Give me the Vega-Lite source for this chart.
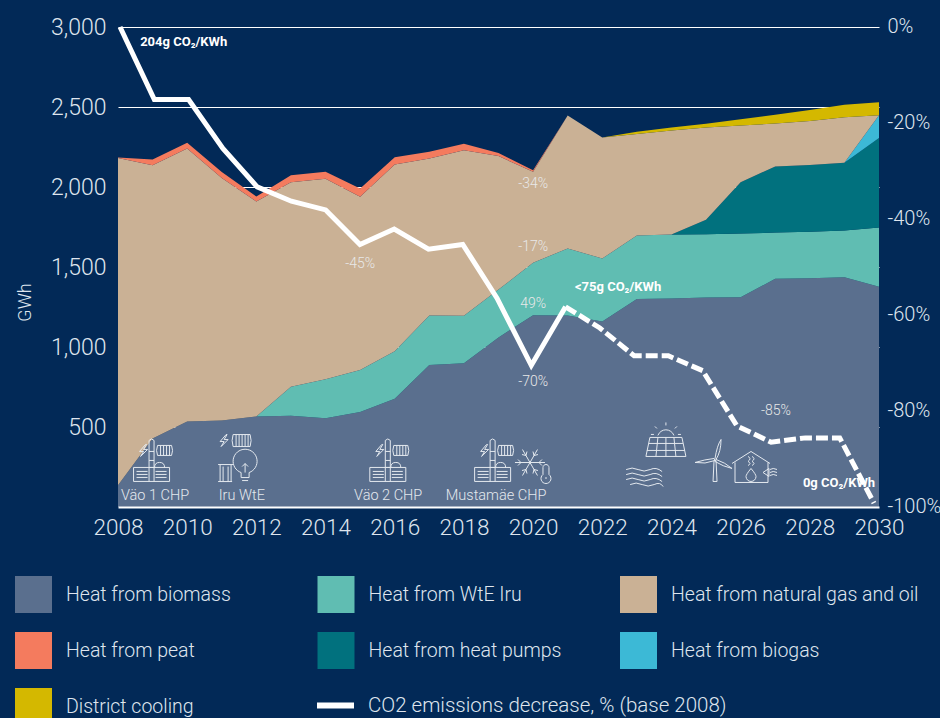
{"$schema":"https://vega.github.io/schema/vega-lite/v6.json","width":761,"height":480,"autosize":{"type":"none"},"padding":{"left":118,"top":27,"right":61,"bottom":211},"background":"#022957","config":{"view":{"stroke":null},"font":"Roboto"},"layer":[{"layer":[{"data":{"values":[
{"year":2008,"series":"Heat from biomass","gwh":136,"order":1},{"year":2008,"series":"Heat from WtE Iru","gwh":0,"order":2},{"year":2008,"series":"Heat from heat pumps","gwh":0,"order":3},{"year":2008,"series":"Heat from biogas","gwh":0,"order":4},{"year":2008,"series":"Heat from natural gas and oil","gwh":2046,"order":5},{"year":2008,"series":"Heat from peat","gwh":2,"order":6},{"year":2008,"series":"District cooling","gwh":0,"order":7},
{"year":2009,"series":"Heat from biomass","gwh":428,"order":1},{"year":2009,"series":"Heat from WtE Iru","gwh":0,"order":2},{"year":2009,"series":"Heat from heat pumps","gwh":0,"order":3},{"year":2009,"series":"Heat from biogas","gwh":0,"order":4},{"year":2009,"series":"Heat from natural gas and oil","gwh":1708,"order":5},{"year":2009,"series":"Heat from peat","gwh":36,"order":6},{"year":2009,"series":"District cooling","gwh":0,"order":7},
{"year":2010,"series":"Heat from biomass","gwh":534,"order":1},{"year":2010,"series":"Heat from WtE Iru","gwh":0,"order":2},{"year":2010,"series":"Heat from heat pumps","gwh":0,"order":3},{"year":2010,"series":"Heat from biogas","gwh":0,"order":4},{"year":2010,"series":"Heat from natural gas and oil","gwh":1707,"order":5},{"year":2010,"series":"Heat from peat","gwh":35,"order":6},{"year":2010,"series":"District cooling","gwh":0,"order":7},
{"year":2011,"series":"Heat from biomass","gwh":540,"order":1},{"year":2011,"series":"Heat from WtE Iru","gwh":0,"order":2},{"year":2011,"series":"Heat from heat pumps","gwh":0,"order":3},{"year":2011,"series":"Heat from biogas","gwh":0,"order":4},{"year":2011,"series":"Heat from natural gas and oil","gwh":1517,"order":5},{"year":2011,"series":"Heat from peat","gwh":36,"order":6},{"year":2011,"series":"District cooling","gwh":0,"order":7},
{"year":2012,"series":"Heat from biomass","gwh":566,"order":1},{"year":2012,"series":"Heat from WtE Iru","gwh":0,"order":2},{"year":2012,"series":"Heat from heat pumps","gwh":0,"order":3},{"year":2012,"series":"Heat from biogas","gwh":0,"order":4},{"year":2012,"series":"Heat from natural gas and oil","gwh":1343,"order":5},{"year":2012,"series":"Heat from peat","gwh":31,"order":6},{"year":2012,"series":"District cooling","gwh":0,"order":7},
{"year":2013,"series":"Heat from biomass","gwh":570,"order":1},{"year":2013,"series":"Heat from WtE Iru","gwh":181,"order":2},{"year":2013,"series":"Heat from heat pumps","gwh":0,"order":3},{"year":2013,"series":"Heat from biogas","gwh":0,"order":4},{"year":2013,"series":"Heat from natural gas and oil","gwh":1279,"order":5},{"year":2013,"series":"Heat from peat","gwh":44,"order":6},{"year":2013,"series":"District cooling","gwh":0,"order":7},
{"year":2014,"series":"Heat from biomass","gwh":555,"order":1},{"year":2014,"series":"Heat from WtE Iru","gwh":244,"order":2},{"year":2014,"series":"Heat from heat pumps","gwh":0,"order":3},{"year":2014,"series":"Heat from biogas","gwh":0,"order":4},{"year":2014,"series":"Heat from natural gas and oil","gwh":1252,"order":5},{"year":2014,"series":"Heat from peat","gwh":44,"order":6},{"year":2014,"series":"District cooling","gwh":0,"order":7},
{"year":2015,"series":"Heat from biomass","gwh":593,"order":1},{"year":2015,"series":"Heat from WtE Iru","gwh":264,"order":2},{"year":2015,"series":"Heat from heat pumps","gwh":0,"order":3},{"year":2015,"series":"Heat from biogas","gwh":0,"order":4},{"year":2015,"series":"Heat from natural gas and oil","gwh":1082,"order":5},{"year":2015,"series":"Heat from peat","gwh":51,"order":6},{"year":2015,"series":"District cooling","gwh":0,"order":7},
{"year":2016,"series":"Heat from biomass","gwh":676,"order":1},{"year":2016,"series":"Heat from WtE Iru","gwh":298,"order":2},{"year":2016,"series":"Heat from heat pumps","gwh":0,"order":3},{"year":2016,"series":"Heat from biogas","gwh":0,"order":4},{"year":2016,"series":"Heat from natural gas and oil","gwh":1167,"order":5},{"year":2016,"series":"Heat from peat","gwh":45,"order":6},{"year":2016,"series":"District cooling","gwh":0,"order":7},
{"year":2017,"series":"Heat from biomass","gwh":888,"order":1},{"year":2017,"series":"Heat from WtE Iru","gwh":309,"order":2},{"year":2017,"series":"Heat from heat pumps","gwh":0,"order":3},{"year":2017,"series":"Heat from biogas","gwh":0,"order":4},{"year":2017,"series":"Heat from natural gas and oil","gwh":981,"order":5},{"year":2017,"series":"Heat from peat","gwh":42,"order":6},{"year":2017,"series":"District cooling","gwh":0,"order":7},
{"year":2018,"series":"Heat from biomass","gwh":899,"order":1},{"year":2018,"series":"Heat from WtE Iru","gwh":296,"order":2},{"year":2018,"series":"Heat from heat pumps","gwh":0,"order":3},{"year":2018,"series":"Heat from biogas","gwh":0,"order":4},{"year":2018,"series":"Heat from natural gas and oil","gwh":1035,"order":5},{"year":2018,"series":"Heat from peat","gwh":40,"order":6},{"year":2018,"series":"District cooling","gwh":0,"order":7},
{"year":2019,"series":"Heat from biomass","gwh":1060,"order":1},{"year":2019,"series":"Heat from WtE Iru","gwh":299,"order":2},{"year":2019,"series":"Heat from heat pumps","gwh":0,"order":3},{"year":2019,"series":"Heat from biogas","gwh":0,"order":4},{"year":2019,"series":"Heat from natural gas and oil","gwh":834,"order":5},{"year":2019,"series":"Heat from peat","gwh":20,"order":6},{"year":2019,"series":"District cooling","gwh":0,"order":7},
{"year":2020,"series":"Heat from biomass","gwh":1199,"order":1},{"year":2020,"series":"Heat from WtE Iru","gwh":327,"order":2},{"year":2020,"series":"Heat from heat pumps","gwh":0,"order":3},{"year":2020,"series":"Heat from biogas","gwh":0,"order":4},{"year":2020,"series":"Heat from natural gas and oil","gwh":569,"order":5},{"year":2020,"series":"Heat from peat","gwh":10,"order":6},{"year":2020,"series":"District cooling","gwh":0,"order":7},
{"year":2021,"series":"Heat from biomass","gwh":1197,"order":1},{"year":2021,"series":"Heat from WtE Iru","gwh":419,"order":2},{"year":2021,"series":"Heat from heat pumps","gwh":0,"order":3},{"year":2021,"series":"Heat from biogas","gwh":0,"order":4},{"year":2021,"series":"Heat from natural gas and oil","gwh":831,"order":5},{"year":2021,"series":"Heat from peat","gwh":0,"order":6},{"year":2021,"series":"District cooling","gwh":0,"order":7},
{"year":2022,"series":"Heat from biomass","gwh":1159,"order":1},{"year":2022,"series":"Heat from WtE Iru","gwh":394,"order":2},{"year":2022,"series":"Heat from heat pumps","gwh":0,"order":3},{"year":2022,"series":"Heat from biogas","gwh":0,"order":4},{"year":2022,"series":"Heat from natural gas and oil","gwh":756,"order":5},{"year":2022,"series":"Heat from peat","gwh":0,"order":6},{"year":2022,"series":"District cooling","gwh":0,"order":7},
{"year":2023,"series":"Heat from biomass","gwh":1300,"order":1},{"year":2023,"series":"Heat from WtE Iru","gwh":397,"order":2},{"year":2023,"series":"Heat from heat pumps","gwh":0,"order":3},{"year":2023,"series":"Heat from biogas","gwh":0,"order":4},{"year":2023,"series":"Heat from natural gas and oil","gwh":635,"order":5},{"year":2023,"series":"Heat from peat","gwh":0,"order":6},{"year":2023,"series":"District cooling","gwh":14,"order":7},
{"year":2024,"series":"Heat from biomass","gwh":1303,"order":1},{"year":2024,"series":"Heat from WtE Iru","gwh":400,"order":2},{"year":2024,"series":"Heat from heat pumps","gwh":0,"order":3},{"year":2024,"series":"Heat from biogas","gwh":0,"order":4},{"year":2024,"series":"Heat from natural gas and oil","gwh":650,"order":5},{"year":2024,"series":"Heat from peat","gwh":0,"order":6},{"year":2024,"series":"District cooling","gwh":19,"order":7},
{"year":2025,"series":"Heat from biomass","gwh":1309,"order":1},{"year":2025,"series":"Heat from WtE Iru","gwh":396,"order":2},{"year":2025,"series":"Heat from heat pumps","gwh":90,"order":3},{"year":2025,"series":"Heat from biogas","gwh":0,"order":4},{"year":2025,"series":"Heat from natural gas and oil","gwh":577,"order":5},{"year":2025,"series":"Heat from peat","gwh":0,"order":6},{"year":2025,"series":"District cooling","gwh":23,"order":7},
{"year":2026,"series":"Heat from biomass","gwh":1311,"order":1},{"year":2026,"series":"Heat from WtE Iru","gwh":398,"order":2},{"year":2026,"series":"Heat from heat pumps","gwh":321,"order":3},{"year":2026,"series":"Heat from biogas","gwh":0,"order":4},{"year":2026,"series":"Heat from natural gas and oil","gwh":354,"order":5},{"year":2026,"series":"Heat from peat","gwh":0,"order":6},{"year":2026,"series":"District cooling","gwh":40,"order":7},
{"year":2027,"series":"Heat from biomass","gwh":1426,"order":1},{"year":2027,"series":"Heat from WtE Iru","gwh":289,"order":2},{"year":2027,"series":"Heat from heat pumps","gwh":413,"order":3},{"year":2027,"series":"Heat from biogas","gwh":0,"order":4},{"year":2027,"series":"Heat from natural gas and oil","gwh":269,"order":5},{"year":2027,"series":"Heat from peat","gwh":0,"order":6},{"year":2027,"series":"District cooling","gwh":54,"order":7},
{"year":2028,"series":"Heat from biomass","gwh":1430,"order":1},{"year":2028,"series":"Heat from WtE Iru","gwh":290,"order":2},{"year":2028,"series":"Heat from heat pumps","gwh":418,"order":3},{"year":2028,"series":"Heat from biogas","gwh":0,"order":4},{"year":2028,"series":"Heat from natural gas and oil","gwh":274,"order":5},{"year":2028,"series":"Heat from peat","gwh":0,"order":6},{"year":2028,"series":"District cooling","gwh":70,"order":7},
{"year":2029,"series":"Heat from biomass","gwh":1436,"order":1},{"year":2029,"series":"Heat from WtE Iru","gwh":292,"order":2},{"year":2029,"series":"Heat from heat pumps","gwh":423,"order":3},{"year":2029,"series":"Heat from biogas","gwh":0,"order":4},{"year":2029,"series":"Heat from natural gas and oil","gwh":285,"order":5},{"year":2029,"series":"Heat from peat","gwh":0,"order":6},{"year":2029,"series":"District cooling","gwh":78,"order":7},
{"year":2030,"series":"Heat from biomass","gwh":1376,"order":1},{"year":2030,"series":"Heat from WtE Iru","gwh":371,"order":2},{"year":2030,"series":"Heat from heat pumps","gwh":560,"order":3},{"year":2030,"series":"Heat from biogas","gwh":142,"order":4},{"year":2030,"series":"Heat from natural gas and oil","gwh":0,"order":5},{"year":2030,"series":"Heat from peat","gwh":0,"order":6},{"year":2030,"series":"District cooling","gwh":81,"order":7}
]},"mark":{"type":"area","line":false},"encoding":{"x":{"field":"year","type":"quantitative","scale":{"domain":[2008,2030],"nice":false,"zero":false},"axis":{"values":[2008,2010,2012,2014,2016,2018,2020,2022,2024,2026,2028,2030],"format":"d","title":null,"grid":false,"ticks":false,"domainColor":"#ffffff","domainWidth":2,"labelColor":"#dfe5ee","labelFont":"Roboto","labelFontWeight":300,"labelFontSize":22.5,"labelPadding":9,"labelFlush":false,"labelOverlap":false,"zindex":1}},"y":{"field":"gwh","type":"quantitative","stack":"zero","scale":{"domain":[0,3000],"nice":false},"axis":{"values":[500,1000,1500,2000,2500,3000],"format":",d","title":"GWh","titleColor":"#dfe5ee","titleFont":"Roboto","titleFontWeight":300,"titleFontSize":18,"titleX":-84,"titleY":275,"grid":true,"gridColor":"#ffffff","gridWidth":1,"gridOpacity":1,"domain":false,"ticks":false,"labelColor":"#dfe5ee","labelFont":"Roboto","labelFontWeight":300,"labelFontSize":23,"labelPadding":12,"zindex":0}},"order":{"field":"order","type":"quantitative"},"fill":{"field":"series","type":"nominal","scale":{"domain":["Heat from biomass","Heat from WtE Iru","Heat from natural gas and oil","Heat from peat","Heat from heat pumps","Heat from biogas","District cooling"],"range":["#5a6f8e","#60bdb2","#cab195","#f47b5e","#01717e","#3cb9d6","#d4b800"]},"legend":{"orient":"none","legendX":-103,"legendY":549,"columns":3,"direction":"horizontal","gridAlign":"all","title":null,"symbolType":"square","symbolSize":1369,"symbolStrokeWidth":0,"symbolOpacity":1,"labelColor":"#dfe5ee","labelFont":"Roboto","labelFontWeight":300,"labelFontSize":19.5,"labelOffset":14,"labelLimit":300,"columnPadding":3.5,"rowPadding":19}}}},
{"data":{"values":[{"year":2008.64,"gwh":2909,"label":"204g CO₂/KWh"},{"year":2021.21,"gwh":1372,"label":"<75g CO₂/KWh"},{"year":2027.8,"gwh":147,"label":"0g CO₂/KWh"}]},"mark":{"type":"text","align":"left","baseline":"middle","font":"Roboto","fontSize":13,"fontWeight":"bold","color":"#ffffff"},"encoding":{"x":{"field":"year","type":"quantitative"},"y":{"field":"gwh","type":"quantitative"},"text":{"field":"label"}}},
{"data":{"values":[{"year":2015,"gwh":1516,"label":"-45%"},{"year":2020,"gwh":2016,"label":"-34%"},{"year":2020,"gwh":1622,"label":"-17%"},{"year":2020,"gwh":1266,"label":"49%"},{"year":2020,"gwh":784,"label":"-70%"},{"year":2027.02,"gwh":603,"label":"-85%"}]},"mark":{"type":"text","align":"center","baseline":"middle","font":"Roboto","fontWeight":300,"fontSize":14,"color":"#e8e8e8"},"encoding":{"x":{"field":"year","type":"quantitative"},"y":{"field":"gwh","type":"quantitative"},"text":{"field":"label"}}},
{"data":{"values":[{"year":2009.07,"gwh":66,"label":"Väo 1 CHP"},{"year":2011.58,"gwh":66,"label":"Iru WtE"},{"year":2015.81,"gwh":66,"label":"Väo 2 CHP"},{"year":2018.93,"gwh":66,"label":"Mustamäe CHP"}]},"mark":{"type":"text","align":"center","baseline":"middle","font":"Roboto","fontWeight":300,"fontSize":14.5,"color":"#e4e9ef"},"encoding":{"x":{"field":"year","type":"quantitative"},"y":{"field":"gwh","type":"quantitative"},"text":{"field":"label"}}},
{"data":{"values":[{"year":2008.97,"gwh":291},{"year":2015.8,"gwh":291},{"year":2018.83,"gwh":291}]},"mark":{"type":"point","filled":false,"size":4,"opacity":1,"stroke":"#e4e9ef","strokeWidth":1,"shape":"M-18,7H18V21H-18Z M-15,11H-4 M-15,14H-4 M-15,17H-4 M4,11H15 M4,14H15 M4,17H15 M-2.5,21V-20L0,-21.5L2.5,-20V21 M-2.5,-9H2.5 M-2.5,0H2.5 M-2.5,7H2.5 M3,7Q3,2 8,2Q13,2 13,7 M6,-15H20Q22,-10 20,-5H6Q4,-10 6,-15Z M9,-15V-5 M12,-15V-5 M15,-15V-5 M18,-15V-5 M-6,-16L-12,-9H-8L-11,-4L-4,-11H-8L-5,-16Z"},"encoding":{"x":{"field":"year","type":"quantitative"},"y":{"field":"gwh","type":"quantitative"}}},
{"data":{"values":[{"year":2011.53,"gwh":309}]},"mark":{"type":"point","filled":false,"size":4,"opacity":1,"stroke":"#e4e9ef","strokeWidth":1,"shape":"M1,15A12,12 0 1 1 9,15V20H1Z M2,23H8 M5,15V6 M2,9L5,6L8,9 M-22,7H-7 M-20,7V24 M-17,9V24 M-12,9V24 M-9,7V24 M-22,24H-8 M-14,-23L-20,-16H-16L-19,-11L-12,-18H-16L-13,-23Z M-7,-23H10Q12,-17 10,-11H-7Q-9,-17 -7,-23Z M-4,-23V-11 M-1,-23V-11 M2,-23V-11 M5,-23V-11 M8,-23V-11"},"encoding":{"x":{"field":"year","type":"quantitative"},"y":{"field":"gwh","type":"quantitative"}}},
{"data":{"values":[{"year":2019.91,"gwh":278}]},"mark":{"type":"point","filled":false,"size":4,"opacity":1,"stroke":"#e4e9ef","strokeWidth":1,"shape":"M-15,0H15 M-7.5,-13L7.5,13 M-7.5,13L7.5,-13 M-12,-3L-9,0L-12,3 M12,-3L9,0L12,3 M-8,-8L-4,-7L-3,-11 M8,-8L4,-7L3,-11 M-8,8L-4,7L-3,11 M8,8L4,7L3,11 M13,5V12A5,5 0 1 0 19,12V5A3,3 0 0 0 13,5Z M15,15.5H17"},"encoding":{"x":{"field":"year","type":"quantitative"},"y":{"field":"gwh","type":"quantitative"}}},
{"data":{"values":[{"year":2023.84,"gwh":391}]},"mark":{"type":"point","filled":false,"size":4,"opacity":1,"stroke":"#e4e9ef","strokeWidth":1,"shape":"M-16,-7H16L20,12H-20Z M-17,-1H17 M-19,6H19 M-8,-7L-10,12 M0,-7V12 M8,-7L10,12 M-8,-9A8.5,8.5 0 0 1 8,-9 M0,-22V-19 M-11,-18L-9,-16 M11,-18L9,-16 M-15,-10H-12 M15,-10H12"},"encoding":{"x":{"field":"year","type":"quantitative"},"y":{"field":"gwh","type":"quantitative"}}},
{"data":{"values":[{"year":2023.21,"gwh":184}]},"mark":{"type":"point","filled":false,"size":4,"opacity":1,"stroke":"#e4e9ef","strokeWidth":1,"shape":"M-18,-8Q-12,-11 -6,-8T6,-8T18,-6 M-18,-3Q-12,-6 -6,-3T6,-3T18,-1 M-18,2Q-12,-1 -6,2T6,2T18,4 M-14,7Q-8,4 -2,7T10,7T19,9"},"encoding":{"x":{"field":"year","type":"quantitative"},"y":{"field":"gwh","type":"quantitative"}}},
{"data":{"values":[{"year":2025.26,"gwh":297}]},"mark":{"type":"point","filled":false,"size":4,"opacity":1,"stroke":"#e4e9ef","strokeWidth":1,"shape":"M-2,22L-1,1H1L2,22Z M0,-1Q2,-14 6,-20Q6,-8 1,0Z M-1,-1Q-10,0 -20,3Q-10,5 0,1Z M1,0Q10,3 17,9Q8,7 0,2Z"},"encoding":{"x":{"field":"year","type":"quantitative"},"y":{"field":"gwh","type":"quantitative"}}},
{"data":{"values":[{"year":2026.3,"gwh":247}]},"mark":{"type":"point","filled":false,"size":4,"opacity":1,"stroke":"#e4e9ef","strokeWidth":1,"shape":"M-19,-4L0,-16L19,-4 M-16,-5V15H17V-5 M0,1Q5,7 5,9A5,5 0 0 1 -5,9Q-5,7 0,1Z M-3,-11Q1,-9 -3,-6Q1,-4 -3,-2 M1,-11Q5,-9 1,-6Q5,-4 1,-2 M12,5L18,1V9Z M19,2Q22,0 26,2 M19,5Q22,3 26,5 M19,8Q22,6 26,8"},"encoding":{"x":{"field":"year","type":"quantitative"},"y":{"field":"gwh","type":"quantitative"}}}
]},
{"layer":[{"data":{"values":[{"year":2008,"pct":0,"series":"CO2 emissions decrease, % (base 2008)"},{"year":2009,"pct":-15.1,"series":"CO2 emissions decrease, % (base 2008)"},{"year":2010,"pct":-15.1,"series":"CO2 emissions decrease, % (base 2008)"},{"year":2011,"pct":-25.3,"series":"CO2 emissions decrease, % (base 2008)"},{"year":2012,"pct":-33.3,"series":"CO2 emissions decrease, % (base 2008)"},{"year":2013,"pct":-36.3,"series":"CO2 emissions decrease, % (base 2008)"},{"year":2014,"pct":-38.1,"series":"CO2 emissions decrease, % (base 2008)"},{"year":2015,"pct":-45.3,"series":"CO2 emissions decrease, % (base 2008)"},{"year":2016,"pct":-42.1,"series":"CO2 emissions decrease, % (base 2008)"},{"year":2017,"pct":-46.3,"series":"CO2 emissions decrease, % (base 2008)"},{"year":2018,"pct":-45.3,"series":"CO2 emissions decrease, % (base 2008)"},{"year":2019,"pct":-56.5,"series":"CO2 emissions decrease, % (base 2008)"},{"year":2020,"pct":-70.5,"series":"CO2 emissions decrease, % (base 2008)"},{"year":2021,"pct":-58.3,"series":"CO2 emissions decrease, % (base 2008)"}]},"mark":{"type":"line","strokeWidth":5,"strokeJoin":"miter"},"encoding":{"x":{"field":"year","type":"quantitative","scale":{"domain":[2007.94,2030.146],"nice":false,"zero":false},"axis":null},"y":{"field":"pct","type":"quantitative","scale":{"domain":[-100,0],"nice":false},"axis":{"orient":"right","values":[0,-20,-40,-60,-80,-100],"labelExpr":"datum.value + '%'","title":null,"grid":false,"domain":false,"ticks":false,"labelColor":"#dfe5ee","labelFont":"Roboto","labelFontWeight":300,"labelFontSize":20,"labelPadding":8,"labelOffset":-1}},"stroke":{"field":"series","type":"nominal","scale":{"domain":["CO2 emissions decrease, % (base 2008)"],"range":["#ffffff"]},"legend":{"orient":"none","legendX":196,"legendY":657,"title":null,"symbolType":"stroke","symbolSize":1369,"symbolStrokeWidth":6,"labelColor":"#dfe5ee","labelFont":"Roboto","labelFontWeight":300,"labelFontSize":20.5,"labelOffset":11,"labelLimit":400}}}},
{"data":{"values":[{"year":2021,"pct":-58.3,"series":"CO2 emissions decrease, % (base 2008)"},{"year":2022,"pct":-62.7,"series":"CO2 emissions decrease, % (base 2008)"},{"year":2023,"pct":-68.5,"series":"CO2 emissions decrease, % (base 2008)"},{"year":2024,"pct":-68.5,"series":"CO2 emissions decrease, % (base 2008)"},{"year":2025,"pct":-71.6,"series":"CO2 emissions decrease, % (base 2008)"},{"year":2026,"pct":-83.1,"series":"CO2 emissions decrease, % (base 2008)"},{"year":2027,"pct":-86.5,"series":"CO2 emissions decrease, % (base 2008)"},{"year":2028,"pct":-85.6,"series":"CO2 emissions decrease, % (base 2008)"},{"year":2029,"pct":-85.6,"series":"CO2 emissions decrease, % (base 2008)"},{"year":2030,"pct":-99.2,"series":"CO2 emissions decrease, % (base 2008)"}]},"mark":{"type":"line","strokeWidth":5,"strokeDash":[12,4],"strokeJoin":"miter"},"encoding":{"x":{"field":"year","type":"quantitative"},"y":{"field":"pct","type":"quantitative"},"stroke":{"field":"series","type":"nominal","legend":null}}}]}
],"resolve":{"scale":{"x":"independent","y":"independent"},"axis":{"y":"independent","x":"independent"}}}
